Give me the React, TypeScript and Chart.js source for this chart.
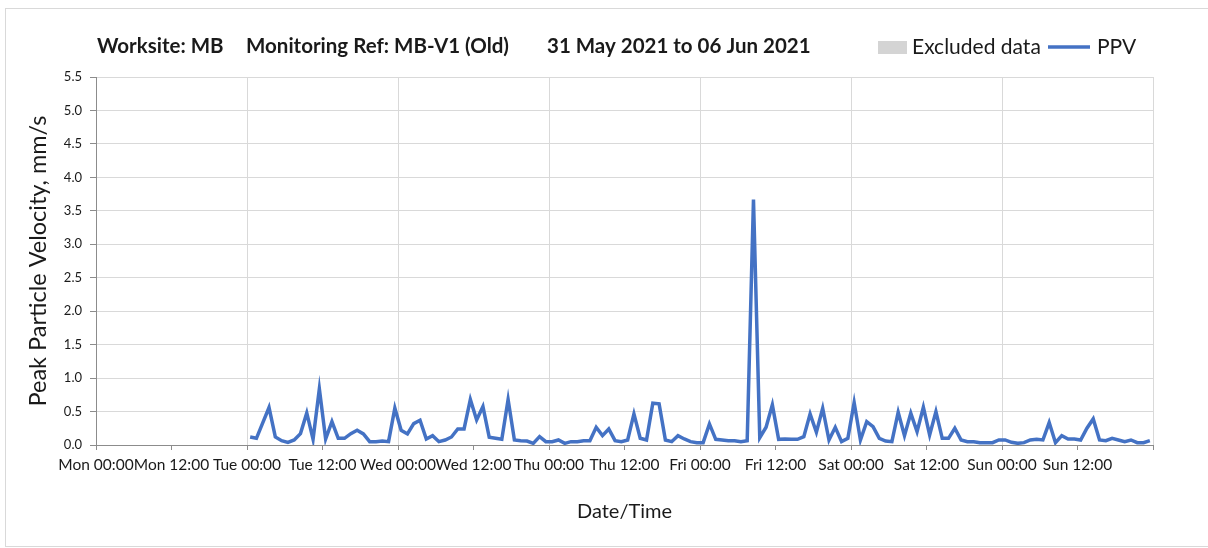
import React, { useEffect, useRef } from "react";
import { Chart, registerables } from "chart.js";

Chart.register(...registerables);

const TITLE_PARTS = ["Worksite: MB", "Monitoring Ref: MB-V1 (Old)", "31 May 2021 to 06 Jun 2021"];
const LEGEND_LABELS = ["Excluded data", "PPV"];
const X_TICK_LABELS = [
  "Mon 00:00", "Mon 12:00", "Tue 00:00", "Tue 12:00", "Wed 00:00", "Wed 12:00", "Thu 00:00",
  "Thu 12:00", "Fri 00:00", "Fri 12:00", "Sat 00:00", "Sat 12:00", "Sun 00:00", "Sun 12:00",
];
const X_AXIS_TITLE = "Date/Time";
const Y_AXIS_TITLE = "Peak Particle Velocity, mm/s";

// hours since Mon 00:00 of the first and last (hourly) reading
const FIRST_READING_HOUR = 24.5;
const LAST_READING_HOUR = 167.5;

const PPV_TUE_WED = [
  0.12, 0.1, 0.33, 0.56, 0.12, 0.065, 0.04, 0.075, 0.17, 0.48, 0.085, 0.84, 0.09, 0.35, 0.1, 0.1, 0.17,
  0.22, 0.165, 0.05, 0.05, 0.06, 0.05, 0.55, 0.22, 0.165, 0.32, 0.37, 0.09, 0.14, 0.05, 0.075,
  0.12, 0.24, 0.24, 0.68,
];
const PPV_WED_THU = [
  0.375, 0.575, 0.115, 0.1, 0.085, 0.68, 0.075, 0.065, 0.06, 0.025, 0.125, 0.05, 0.05, 0.075, 0.025,
  0.05, 0.05, 0.065, 0.065, 0.265, 0.14, 0.24, 0.065, 0.05, 0.075, 0.465, 0.1, 0.075, 0.625, 0.615,
  0.075, 0.05, 0.14, 0.09, 0.05, 0.035,
];
const PPV_FRI_SAT = [
  0.035, 0.315, 0.085, 0.075, 0.065, 0.065, 0.05, 0.065, 3.67, 0.11, 0.265, 0.6, 0.085, 0.09, 0.085,
  0.085, 0.125, 0.465, 0.19, 0.55, 0.075, 0.265, 0.05, 0.1, 0.635, 0.075, 0.35, 0.275, 0.1, 0.06,
  0.05, 0.49, 0.14, 0.475, 0.2, 0.565,
];
const PPV_SAT_SUN = [
  0.15, 0.5, 0.1, 0.1, 0.25, 0.075, 0.05, 0.05, 0.035, 0.035, 0.035, 0.075, 0.075, 0.04, 0.025,
  0.035, 0.075, 0.085, 0.075, 0.335, 0.035, 0.14, 0.09, 0.09, 0.075, 0.25, 0.39, 0.075, 0.065, 0.1,
  0.075, 0.05, 0.075, 0.035, 0.035, 0.065,
];
const PPV_VALUES = [...PPV_TUE_WED, ...PPV_WED_THU, ...PPV_FRI_SAT, ...PPV_SAT_SUN];

const FONT = "Lato, 'Open Sans', sans-serif";
const LINE_COLOR = "#4472C4";
const GRID_COLOR = "#d9d9d9";
const AXIS_COLOR = "#8c8c8c";
const TEXT_COLOR = "#1a1a1a";

const W = 1208;
const H = 548;
const PLOT = { left: 96, right: 1153, top: 77, bottom: 445 };

const headerPlugin = {
  id: "header",
  afterDraw(chart: any) {
    const ctx = chart.ctx;
    ctx.save();
    ctx.fillStyle = TEXT_COLOR;
    ctx.textBaseline = "middle";
    ctx.textAlign = "left";
    ctx.font = `bold 20.5px ${FONT}`;
    const xs = [97, 246, 547];
    TITLE_PARTS.forEach((t, i) => ctx.fillText(t, xs[i], 46));

    // legend
    ctx.fillStyle = "#d4d4d4";
    ctx.fillRect(878, 41, 29, 13);
    ctx.fillStyle = TEXT_COLOR;
    ctx.font = `21px ${FONT}`;
    ctx.fillText(LEGEND_LABELS[0], 912, 47);
    ctx.strokeStyle = LINE_COLOR;
    ctx.lineWidth = 3.5;
    ctx.beginPath();
    ctx.moveTo(1048, 47);
    ctx.lineTo(1090, 47);
    ctx.stroke();
    ctx.fillText(LEGEND_LABELS[1], 1097, 47);
    ctx.restore();
  },
};

export default function App() {
  const ref = useRef<HTMLCanvasElement | null>(null);

  useEffect(() => {
    document.body.style.margin = "0";
    document.body.style.overflow = "hidden";
    if (!ref.current) return;
    const step = (LAST_READING_HOUR - FIRST_READING_HOUR) / (PPV_VALUES.length - 1);
    const points = PPV_VALUES.map((v, i) => ({ x: FIRST_READING_HOUR + i * step, y: v }));

    const chart = new Chart(ref.current, {
      type: "line",
      data: {
        datasets: [
          {
            label: LEGEND_LABELS[1],
            data: points,
            borderColor: LINE_COLOR,
            borderWidth: 3.5,
            pointRadius: 0,
            tension: 0,
            fill: false,
          },
        ],
      },
      options: {
        animation: false,
        responsive: false,
        devicePixelRatio: 1,
        layout: { padding: { left: 0, right: W - PLOT.right, top: PLOT.top, bottom: 0 } },
        plugins: { legend: { display: false }, tooltip: { enabled: false }, title: { display: false } },
        scales: {
          x: {
            type: "linear",
            min: 0,
            max: 168,
            afterFit: (s: any) => {
              s.height = H - PLOT.bottom;
            },
            afterBuildTicks: (s: any) => {
              s.ticks = Array.from({ length: 15 }, (_, i) => ({ value: i * 12 }));
            },
            ticks: {
              autoSkip: false,
              maxRotation: 0,
              minRotation: 0,
              padding: 6,
              color: TEXT_COLOR,
              font: { family: FONT, size: 15.5 },
              callback: (v: any) => X_TICK_LABELS[Math.round(Number(v) / 12)] ?? "",
            },
            grid: {
              color: (c: any) => (c.tick && c.tick.value % 24 === 0 ? GRID_COLOR : "rgba(0,0,0,0)"),
              tickColor: AXIS_COLOR,
              tickLength: 5,
              drawTicks: true,
            },
            border: { color: AXIS_COLOR, width: 1 },
            title: {
              display: true,
              text: X_AXIS_TITLE,
              color: TEXT_COLOR,
              font: { family: FONT, size: 20 },
              padding: { top: 0, bottom: 24 },
            },
          },
          y: {
            min: 0,
            max: 5.5,
            afterFit: (s: any) => {
              s.width = PLOT.left;
            },
            ticks: {
              stepSize: 0.5,
              padding: 8,
              color: TEXT_COLOR,
              font: { family: FONT, size: 13 },
              callback: (v: any) => Number(v).toFixed(1),
            },
            grid: { color: GRID_COLOR, tickColor: AXIS_COLOR, tickLength: 6 },
            border: { color: AXIS_COLOR, width: 1 },
            title: {
              display: true,
              text: Y_AXIS_TITLE,
              color: TEXT_COLOR,
              font: { family: FONT, size: 23.5 },
              padding: { top: 24, bottom: 0 },
            },
          },
        },
      },
      plugins: [headerPlugin],
    });
    return () => chart.destroy();
  }, []);

  return (
    <div style={{ position: "relative", width: W, height: H, background: "#fff" }}>
      <div
        style={{
          position: "absolute",
          left: 5,
          top: 8,
          width: W,
          height: H - 9,
          border: `1px solid ${GRID_COLOR}`,
          boxSizing: "border-box",
        }}
      />
      <canvas ref={ref} width={W} height={H} style={{ position: "absolute", left: 0, top: 0, width: W, height: H }} />
    </div>
  );
}
